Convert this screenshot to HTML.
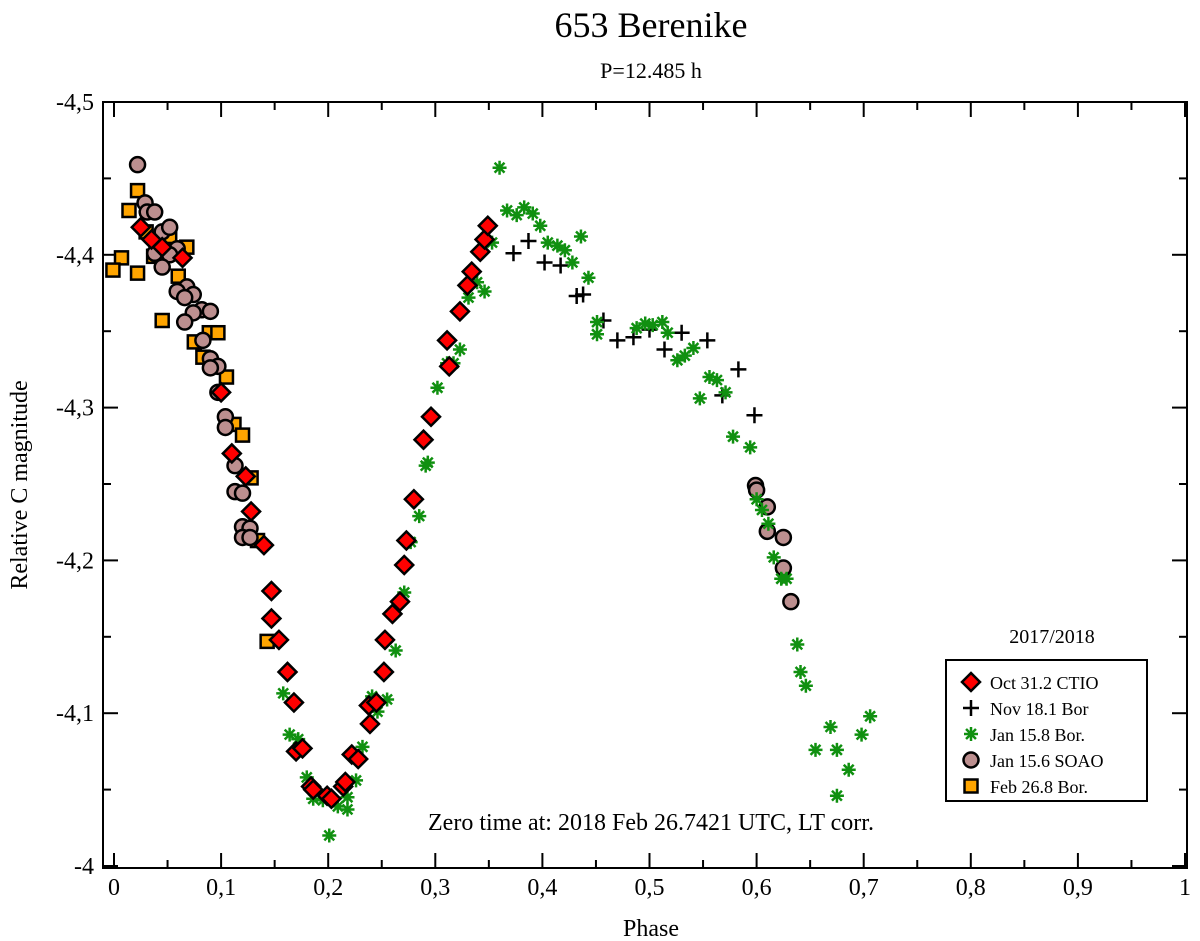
<!DOCTYPE html>
<html><head><meta charset="utf-8"><style>
html,body{margin:0;padding:0;background:#fff;}
svg{display:block;font-family:"Liberation Serif",serif;}
</style></head><body>
<svg id="chart" width="1200" height="941" viewBox="0 0 1200 941">
<text x="651" y="37" font-size="36" text-anchor="middle">653 Berenike</text>
<text x="651" y="78" font-size="22" text-anchor="middle">P=12.485 h</text>
<rect x="103" y="102" width="1084" height="766" fill="none" stroke="#000" stroke-width="2"/>
<g id="ticks"></g>
<g id="marks"></g>
<text x="651" y="936" font-size="24" text-anchor="middle">Phase</text>
<text x="27" y="485" font-size="24" text-anchor="middle" transform="rotate(-90 27 485)">Relative C magnitude</text>
<text x="651" y="830" font-size="24" text-anchor="middle">Zero time at: 2018 Feb 26.7421 UTC, LT corr.</text>
<text x="1052" y="643" font-size="20" text-anchor="middle">2017/2018</text>
<g>
<rect x="946" y="660" width="201" height="141" fill="#fff" stroke="#000" stroke-width="2"/>
<g id="legend"></g>
</g>
</svg>
<script>
const xTicks=[0,0.1,0.2,0.3,0.4,0.5,0.6,0.7,0.8,0.9,1];
const xTickLabels=["0","0,1","0,2","0,3","0,4","0,5","0,6","0,7","0,8","0,9","1"];
const yTicks=[-4.5,-4.4,-4.3,-4.2,-4.1,-4];
const yTickLabels=["-4,5","-4,4","-4,3","-4,2","-4,1","-4"];
const seriesNames=["Oct 31.2 CTIO","Nov 18.1 Bor","Jan 15.8 Bor.","Jan 15.6 SOAO","Feb 26.8 Bor."];
const octPhase=[0.025,0.035,0.045,0.064,0.1,0.11,0.123,0.128,0.14,0.147,0.147,0.154,0.162,0.168,0.17,0.176,0.184,0.186,0.199,0.203,0.214,0.216,0.222,0.228,0.238,0.239,0.245,0.252,0.253,0.26,0.267,0.271,0.273,0.28,0.289,0.296,0.313,0.311,0.323,0.33,0.334,0.342,0.346,0.349];
const octMag=[-4.418,-4.41,-4.405,-4.398,-4.31,-4.27,-4.255,-4.232,-4.21,-4.18,-4.162,-4.148,-4.127,-4.107,-4.075,-4.077,-4.052,-4.05,-4.046,-4.044,-4.052,-4.055,-4.073,-4.07,-4.105,-4.093,-4.107,-4.127,-4.148,-4.165,-4.173,-4.197,-4.213,-4.24,-4.279,-4.294,-4.327,-4.344,-4.363,-4.38,-4.389,-4.402,-4.41,-4.419];
const novPhase=[0.373,0.387,0.402,0.417,0.432,0.438,0.457,0.470,0.485,0.500,0.514,0.530,0.554,0.583,0.568,0.598];
const novMag=[-4.401,-4.409,-4.395,-4.393,-4.373,-4.374,-4.357,-4.344,-4.346,-4.351,-4.338,-4.349,-4.344,-4.325,-4.308,-4.295];
const janBorPhase=[0.158,0.164,0.172,0.180,0.186,0.195,0.201,0.209,0.218,0.218,0.226,0.232,0.241,0.246,0.255,0.263,0.271,0.277,0.285,0.291,0.293,0.302,0.311,0.317,0.323,0.331,0.339,0.346,0.353,0.360,0.367,0.376,0.383,0.391,0.398,0.405,0.414,0.421,0.428,0.436,0.443,0.451,0.451,0.488,0.496,0.503,0.512,0.517,0.526,0.533,0.541,0.547,0.556,0.563,0.571,0.578,0.594,0.600,0.605,0.611,0.616,0.623,0.628,0.638,0.641,0.646,0.655,0.669,0.675,0.686,0.698,0.706,0.675];
const janBorMag=[-4.113,-4.086,-4.083,-4.058,-4.044,-4.043,-4.020,-4.039,-4.045,-4.037,-4.056,-4.078,-4.111,-4.101,-4.109,-4.141,-4.179,-4.212,-4.229,-4.262,-4.264,-4.313,-4.329,-4.329,-4.338,-4.372,-4.382,-4.376,-4.408,-4.457,-4.429,-4.426,-4.431,-4.427,-4.419,-4.408,-4.406,-4.403,-4.395,-4.412,-4.385,-4.356,-4.348,-4.352,-4.355,-4.354,-4.356,-4.349,-4.331,-4.334,-4.339,-4.306,-4.320,-4.318,-4.310,-4.281,-4.274,-4.240,-4.233,-4.224,-4.202,-4.188,-4.188,-4.145,-4.127,-4.118,-4.076,-4.091,-4.076,-4.063,-4.086,-4.098,-4.046];
const soaoPhase=[0.022,0.029,0.031,0.038,0.045,0.052,0.059,0.038,0.052,0.045,0.068,0.059,0.074,0.066,0.082,0.090,0.074,0.066,0.083,0.090,0.097,0.090,0.097,0.104,0.104,0.113,0.113,0.120,0.120,0.127,0.120,0.127,0.599,0.600,0.610,0.610,0.625,0.625,0.632];
const soaoMag=[-4.459,-4.434,-4.428,-4.428,-4.415,-4.418,-4.404,-4.401,-4.400,-4.392,-4.379,-4.376,-4.374,-4.372,-4.364,-4.363,-4.362,-4.356,-4.344,-4.332,-4.327,-4.326,-4.310,-4.294,-4.287,-4.262,-4.245,-4.244,-4.222,-4.221,-4.215,-4.215,-4.249,-4.246,-4.235,-4.219,-4.215,-4.195,-4.173];
const febPhase=[0.022,0.014,0.007,-0.001,0.022,0.030,0.052,0.068,0.037,0.060,0.045,0.089,0.097,0.075,0.083,0.105,0.112,0.120,0.128,0.134,0.143];
const febMag=[-4.442,-4.429,-4.398,-4.390,-4.388,-4.415,-4.412,-4.405,-4.399,-4.386,-4.357,-4.349,-4.349,-4.343,-4.333,-4.320,-4.289,-4.282,-4.254,-4.213,-4.147];

const NS="http://www.w3.org/2000/svg";
const X=p=>114+p*1071;
const Y=m=>102+(m+4.5)*1528;
function mk(tag,attrs,parent){const e=document.createElementNS(NS,tag);for(const k in attrs)e.setAttribute(k,attrs[k]);parent.appendChild(e);return e;}
const tg=document.getElementById('ticks');
function line(x1,y1,x2,y2){const l=mk('line',{x1,y1,x2,y2,stroke:'#000','stroke-width':2},tg);

}
xTicks.forEach((t,i)=>{const x=X(t);line(x,868,x,853);line(x,102,x,117);
 const tx=mk('text',{x:x,y:895,'font-size':24,'text-anchor':'middle'},tg);tx.textContent=xTickLabels[i];
 
 
 if(i<xTicks.length-1){const xm=X(t+0.05);line(xm,868,xm,860);line(xm,102,xm,110);}});
yTicks.forEach((t,i)=>{const y=Y(t);line(103,y,118,y);line(1187,y,1172,y);
 const tx=mk('text',{x:94,y:y+8,'font-size':24,'text-anchor':'end'},tg);tx.textContent=yTickLabels[i];
 
 
 if(i<yTicks.length-1){const ym=Y(t+0.05);line(103,ym,111,ym);line(1187,ym,1179,ym);}});

function diamond(g,x,y){return mk('polygon',{points:`${x},${y-9} ${x+9},${y} ${x},${y+9} ${x-9},${y}`,fill:'#ff0000',stroke:'#000','stroke-width':2.5},g);}
function plus(g,x,y){return mk('path',{d:`M${x-8},${y}H${x+8}M${x},${y-8}V${y+8}`,stroke:'#000','stroke-width':2.5,fill:'none'},g);}
function star(g,x,y){let d='';for(let k=0;k<4;k++){const a=k*Math.PI/4;d+=`M${x-7*Math.cos(a)},${y-7*Math.sin(a)}L${x+7*Math.cos(a)},${y+7*Math.sin(a)}`;}return mk('path',{d,stroke:'#109010','stroke-width':2.5,fill:'none'},g);}
function circ(g,x,y){return mk('circle',{cx:x,cy:y,r:7.5,fill:'#bc8f8f',stroke:'#000','stroke-width':2.5},g);}
function sq(g,x,y){return mk('rect',{x:x-6.5,y:y-6.5,width:13,height:13,fill:'#ffa500',stroke:'#000','stroke-width':2.5},g);}

const mg=document.getElementById('marks');
const series=[[febPhase,febMag,sq,'feb-point'],[soaoPhase,soaoMag,circ,'soao-point'],[novPhase,novMag,plus,'nov-point'],[janBorPhase,janBorMag,star,'janbor-point'],[octPhase,octMag,diamond,'oct-point']];
series.forEach(s=>{s[0].forEach((p,i)=>{const e=s[2](mg,X(p),Y(s[1][i]));
 
 });});

const lg=document.getElementById('legend');
const lf=[diamond,plus,star,circ,sq];
seriesNames.forEach((n,i)=>{const y=682+i*26;const e=lf[i](lg,971,y);
 
 
 const t=mk('text',{x:990,y:y+7,'font-size':18},lg);t.textContent=n;
 
 });
</script>
</body></html>
